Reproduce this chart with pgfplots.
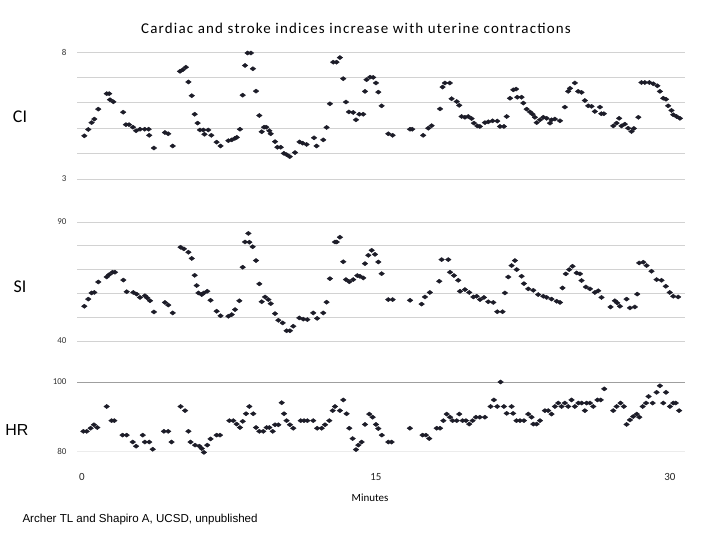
\documentclass[border=0pt]{standalone}
\usepackage{fontspec}
\setmainfont{Carlito}
\newfontfamily\arial{Liberation Sans}
\newfontfamily\titlefont[LetterSpace=8]{Carlito}
\usepackage{pgfplots}
\pgfplotsset{compat=1.18}
\usepackage{pgfplotstable}

\definecolor{mk}{HTML}{1C1C28}
\definecolor{gridc}{HTML}{D2D2D2}

\pgfplotstableread{
t v
0.12 4.70
0.32 4.95
0.49 5.22
0.63 5.36
0.83 5.75
1.26 6.36
1.39 6.36
1.43 6.12
1.60 6.04
2.10 5.63
2.24 5.14
2.40 5.14
2.60 5.04
2.76 4.90
2.96 4.96
3.20 4.96
3.40 4.96
3.43 4.72
3.67 4.22
4.23 4.83
4.40 4.78
4.63 4.30
5.00 7.24
5.14 7.30
5.30 7.40
5.43 6.82
5.60 6.28
5.75 5.55
5.90 5.20
6.02 4.93
6.19 4.93
6.25 4.76
6.44 4.93
6.60 4.72
6.87 4.45
7.07 4.30
7.47 4.51
7.64 4.54
7.80 4.60
7.90 4.64
8.06 4.96
8.20 6.30
8.32 7.47
8.45 7.96
8.62 7.96
8.72 7.34
8.88 6.46
9.05 5.50
9.17 4.86
9.29 5.04
9.40 5.04
9.56 4.90
9.63 4.78
9.85 4.47
9.97 4.25
10.14 4.25
10.30 4.01
10.44 3.96
10.60 3.88
10.87 4.04
11.10 4.46
11.26 4.41
11.46 4.36
11.84 4.62
11.97 4.30
12.31 4.54
12.48 5.03
12.65 5.96
12.82 7.60
12.99 7.60
13.16 7.78
13.33 6.95
13.47 6.03
13.62 5.64
13.84 5.62
13.98 5.33
14.15 5.55
14.35 5.55
14.44 6.45
14.52 6.91
14.70 7.01
14.86 7.00
15.00 6.78
15.12 6.42
15.29 5.88
15.63 4.78
15.85 4.72
16.74 4.96
16.85 4.96
17.41 4.72
17.67 5.00
17.84 5.10
18.27 5.76
18.40 6.62
18.52 6.78
18.77 6.78
18.86 6.16
19.12 6.05
19.25 5.90
19.37 5.46
19.54 5.43
19.71 5.46
19.88 5.38
20.00 5.20
20.17 5.09
20.30 5.07
20.56 5.22
20.73 5.25
20.95 5.29
21.19 5.28
21.33 5.07
21.53 5.07
21.67 5.46
21.84 6.18
22.01 6.51
22.15 6.54
22.21 6.22
22.43 6.22
22.52 5.99
22.69 5.75
22.86 5.64
22.99 5.55
23.11 5.43
23.20 5.22
23.37 5.33
23.54 5.43
23.71 5.39
23.88 5.20
23.96 5.33
24.13 5.36
24.39 5.29
24.64 5.83
24.81 6.45
24.90 6.57
25.15 6.78
25.32 6.45
25.49 6.41
25.66 6.09
25.83 5.88
26.00 5.86
26.17 5.66
26.43 5.83
26.50 5.57
26.63 5.57
27.11 5.09
27.28 5.20
27.41 5.39
27.53 5.09
27.70 5.16
27.87 5.00
28.04 4.87
28.16 4.99
28.39 5.43
28.55 6.80
28.72 6.80
28.95 6.80
29.15 6.75
29.36 6.67
29.49 6.45
29.66 6.18
29.80 6.14
29.91 5.88
30.08 5.70
30.17 5.53
30.34 5.46
30.51 5.39
}\cidata

\pgfplotstableread{
t v
0.12 54.6
0.32 57.6
0.49 60.2
0.63 60.4
0.83 64.8
1.26 66.9
1.39 67.9
1.56 68.9
1.68 68.9
2.11 65.6
2.28 60.7
2.62 60.4
2.79 59.7
2.96 58.3
3.21 59.0
3.33 58.1
3.47 56.9
3.67 52.2
4.23 56.2
4.40 55.1
4.63 51.8
5.03 79.4
5.20 78.7
5.43 77.3
5.60 74.7
5.75 67.6
5.85 63.3
5.94 60.2
6.11 59.5
6.22 60.2
6.39 60.9
6.56 57.1
6.87 52.5
7.07 50.6
7.47 50.4
7.64 51.1
7.81 53.2
8.03 56.9
8.20 71.0
8.32 81.6
8.49 85.2
8.54 81.5
8.71 79.6
8.88 73.8
9.05 64.0
9.17 56.5
9.34 58.5
9.51 57.4
9.63 55.7
9.85 51.5
10.02 48.7
10.24 47.6
10.44 44.3
10.61 44.3
10.78 46.2
11.09 49.7
11.29 49.2
11.50 49.0
11.80 51.8
12.00 49.5
12.31 51.8
12.48 56.3
12.65 66.2
12.91 81.6
13.00 81.6
13.16 83.6
13.33 73.3
13.47 65.8
13.64 64.9
13.84 65.8
14.05 67.5
14.18 67.2
14.35 66.5
14.44 72.5
14.61 76.0
14.78 78.1
14.95 76.4
15.12 73.2
15.29 68.3
15.63 57.4
15.85 57.4
16.74 57.1
17.33 55.5
17.50 58.5
17.75 60.4
18.23 65.1
18.35 74.2
18.69 74.2
18.78 68.9
18.98 67.5
19.20 65.5
19.29 60.9
19.54 61.6
19.76 60.4
19.97 58.5
20.14 58.8
20.31 57.4
20.51 58.3
20.73 56.5
20.99 56.2
21.19 52.3
21.46 52.3
21.58 60.2
21.75 66.9
21.92 71.7
22.09 73.8
22.18 70.0
22.43 67.2
22.55 64.1
22.77 61.9
23.03 61.3
23.28 59.5
23.54 58.8
23.71 58.3
23.96 57.6
24.22 56.7
24.39 56.2
24.52 62.3
24.69 68.2
24.86 70.0
25.03 71.4
25.24 68.6
25.41 68.2
25.49 65.4
25.71 62.7
25.92 61.9
26.17 60.4
26.34 61.1
26.51 58.3
26.97 54.3
27.19 56.9
27.31 56.0
27.45 54.6
27.79 57.6
27.96 53.9
28.21 54.3
28.33 59.7
28.43 72.8
28.64 73.1
28.81 71.7
29.06 69.3
29.32 65.8
29.57 65.5
29.79 63.0
29.99 60.4
30.17 58.8
30.42 58.5
}\sidata

\pgfplotstableread{
t v
0.07 85.7
0.24 85.7
0.44 86.6
0.61 87.6
0.78 86.8
1.26 92.9
1.51 88.8
1.65 88.8
2.07 84.6
2.28 84.6
2.59 82.6
2.76 81.4
3.10 84.6
3.21 82.6
3.43 82.6
3.61 80.5
4.18 85.7
4.40 85.7
4.57 82.6
5.03 92.9
5.26 91.7
5.43 85.7
5.54 82.6
5.77 81.7
5.99 81.4
6.11 80.7
6.22 79.6
6.39 81.7
6.56 83.5
6.87 84.6
7.04 84.6
7.52 88.8
7.72 88.8
7.89 87.8
8.06 86.8
8.20 88.6
8.37 90.8
8.54 92.9
8.74 90.8
8.88 86.8
9.05 85.7
9.25 85.7
9.42 86.8
9.56 86.8
9.73 85.7
9.85 87.6
10.02 87.6
10.19 94.0
10.31 90.8
10.44 88.8
10.61 87.6
10.78 86.6
11.16 88.8
11.33 88.8
11.50 88.8
11.80 88.8
12.00 86.6
12.23 86.6
12.40 87.6
12.62 88.8
12.79 91.7
12.91 92.9
13.16 91.7
13.33 94.8
13.50 90.8
13.64 86.6
13.81 83.6
13.98 80.4
14.10 81.7
14.27 82.6
14.44 87.7
14.66 90.7
14.83 89.8
15.00 87.7
15.12 86.5
15.30 84.6
15.63 82.6
15.80 82.6
16.73 86.6
17.38 84.6
17.55 84.6
17.72 83.6
18.10 86.6
18.27 86.6
18.44 88.8
18.61 90.7
18.78 89.8
18.91 88.8
19.12 88.8
19.25 90.7
19.42 88.8
19.59 88.8
19.76 87.8
19.93 88.8
20.10 89.8
20.30 89.8
20.56 89.8
20.85 92.9
21.02 94.8
21.19 92.9
21.36 100.0
21.53 92.9
21.67 90.9
21.92 92.9
22.00 90.9
22.17 88.8
22.35 88.8
22.55 88.8
22.77 90.7
22.94 89.8
23.03 87.8
23.20 87.8
23.37 88.8
23.62 91.7
23.79 91.7
23.96 90.7
24.13 92.9
24.30 93.9
24.47 92.9
24.64 93.9
24.81 92.9
24.98 94.8
25.15 92.9
25.33 93.9
25.50 93.9
25.66 91.7
25.75 93.9
25.92 93.9
26.09 92.9
26.30 94.8
26.47 94.8
26.65 98.0
27.11 91.7
27.28 92.9
27.48 93.9
27.65 92.9
27.79 87.7
27.96 89.0
28.13 90.0
28.31 90.7
28.44 89.8
28.61 92.9
28.78 93.9
28.91 95.8
29.12 93.9
29.32 97.0
29.49 98.9
29.66 93.9
29.80 97.0
30.00 92.9
30.17 93.9
30.30 93.9
30.47 91.7
}\hrdata

\pgfplotsset{
  panel/.style={
    scale only axis,
    width=608bp,
    xmin=-0.255, xmax=30.77,
    axis line style={draw=none},
    major tick style={draw=none},
    minor tick style={draw=none},
    clip=false,
    xtick=\empty,
    /pgf/number format/assume math mode=true,
    yticklabel style={font=\fontsize{9}{10}\selectfont, text=black!80, xshift=-7bp},
    ymajorgrids,
    major grid style={draw=gridc, line width=0.8pt},
  },
  dots/.style={only marks, mark=diamond*, mark size=2.8bp,
    mark options={rotate=90, draw=mk, fill=mk}},
}

\begin{document}
\begin{tikzpicture}
\fill[white] (0bp,0bp) rectangle (720bp,540bp);
\path[use as bounding box] (0bp,0bp) rectangle (720bp,540bp);

\node[font=\titlefont\fontsize{15}{17}\selectfont] at (356bp,512bp) {Cardiac and stroke indices increase with uterine contractions};

% CI panel
\begin{axis}[panel, at={(77bp,361bp)}, anchor=south west, height=127bp,
  ymin=3, ymax=8, ytick={3,4,5,6,7,8}, yticklabels={3,,,,,8}]
\addplot[dots] table[x=t, y=v] {\cidata};
\end{axis}
\node[font=\fontsize{18}{20}\selectfont] at (20bp,423bp) {CI};

% SI panel
\begin{axis}[panel, at={(77bp,199bp)}, anchor=south west, height=119bp,
  ymin=40, ymax=90, ytick={40,50,60,70,80,90}, yticklabels={40,,,,,90}]
\addplot[dots] table[x=t, y=v] {\sidata};
\end{axis}
\node[font=\fontsize{18}{20}\selectfont] at (20bp,253bp) {SI};

% HR panel
\begin{axis}[panel, at={(77bp,89bp)}, anchor=south west, height=69bp,
  ymin=80, ymax=100, ytick={80,100}, ymajorgrids=false,
  xtick={0,15,30},
  xticklabel style={font=\fontsize{11}{12}\selectfont, text=black!85, yshift=-19bp}]
\draw[gray!15, line width=0.8pt] (rel axis cs:0,0) -- (rel axis cs:1,0);
\draw[gray!75, line width=0.8pt] (rel axis cs:0,1) -- (rel axis cs:1,1);
\addplot[dots] table[x=t, y=v] {\hrdata};
\end{axis}
\node[font=\arial\fontsize{16}{18}\selectfont] at (17bp,110bp) {HR};

\node[font=\fontsize{11}{12}\selectfont] at (370bp,42bp) {Minutes};
\node[font=\arial\fontsize{11.6}{13}\selectfont, anchor=west] at (19bp,20bp) {Archer TL and Shapiro A, UCSD, unpublished};
\end{tikzpicture}
\end{document}
